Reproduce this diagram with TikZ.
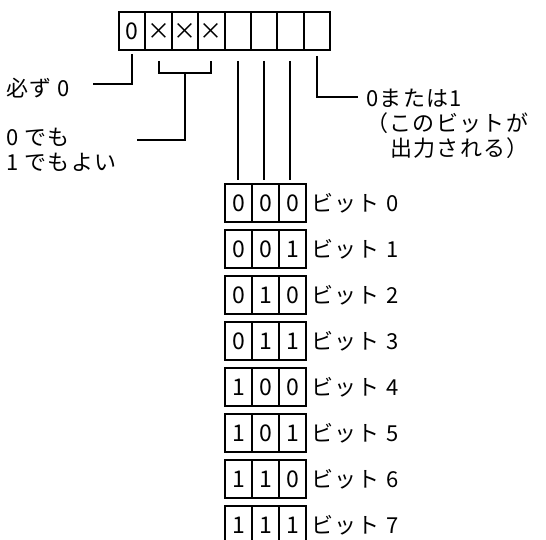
\documentclass[tikz,border=0pt]{standalone}
\usepackage{fontspec}
\setmainfont{Noto Sans CJK JP}
\newfontfamily\lblfont[LetterSpace=6]{Noto Sans CJK JP}
\begin{document}
\begin{tikzpicture}[x=1pt,y=-1pt,
  cell/.style={draw,line width=2pt,inner sep=0pt,minimum width=26.375pt,minimum height=38pt,font=\fontsize{23}{23}\selectfont},
  bcell/.style={cell,minimum width=27pt},
  lab/.style={anchor=west,inner sep=0pt,font=\lblfont\fontsize{22}{24}\selectfont},
  wire/.style={line width=2pt}]
\clip (0,0) rectangle (546,540);
\fill[white] (0,0) rectangle (546,540);
% top register
\foreach \t [count=\i from 0] in {0,×,×,×,{},{},{},{}}
  \node[cell] (r\i) at ({119+26.375*(\i+0.5)},31) {\t};
% bit table
\foreach \a/\b/\c [count=\k from 0] in {0/0/0,0/0/1,0/1/0,0/1/1,1/0/0,1/0/1,1/1/0,1/1/1}{
  \node[bcell] (b\k0) at (238.5,{203+46*\k}) {\a};
  \node[bcell] (b\k1) at (265.5,{203+46*\k}) {\b};
  \node[bcell] (b\k2) at (292.5,{203+46*\k}) {\c};
  \node[lab] (t\k) at (311,{203+46*\k}) {ビット \k};
}
% labels
\node[lab] (n0) at (6,88) {必ず 0};
\node[lab] (n1a) at (6,137) {0 でも};
\node[lab] (n1b) at (6,162) {1 でもよい};
\node[lab] (n2a) at (366,98) {0または1};
\node[lab] (n2b) at (366,123) {（このビットが};
\node[lab] (n2c) at (390,148) {出力される）};
% connectors
\coordinate (c0) at (93,84);
\draw[wire] ([yshift=-3pt]r0.south) |- (c0);
\draw[wire] ([yshift=-10pt]r1.south) -- ++(0,12) -| ([yshift=-10pt]r3.south);
\path (r2.south) ++(0,22) coordinate (bm);
\coordinate (c1) at (137,140);
\draw[wire] (bm) |- (c1);
\foreach \i in {4,5,6}
  \draw[wire] ([yshift=-10pt]r\i.south) -- ([yshift=3pt]r\i.south |- b00.north);
\coordinate (c7) at (358,97);
\draw[wire] ([yshift=-5pt]r7.south) |- (c7);
\end{tikzpicture}
\end{document}
